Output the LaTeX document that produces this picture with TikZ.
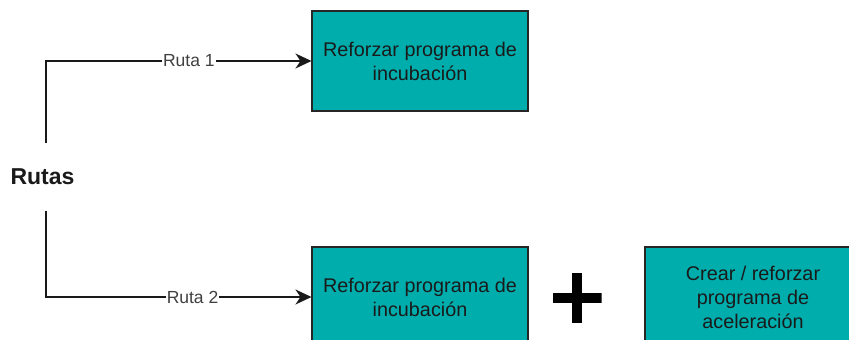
\documentclass[tikz,border=0pt]{standalone}
\usepackage{fontspec}
\setmainfont{Liberation Sans}
\usetikzlibrary{arrows.meta}
\definecolor{tealfill}{RGB}{0,173,173}
\definecolor{txt}{RGB}{26,26,26}
\tikzset{
  progbox/.style={draw=black!85, line width=1.1pt, fill=tealfill, minimum width=216pt, minimum height=100pt,
    inner sep=0pt, align=center, text=txt, font=\fontsize{19.8pt}{24pt}\selectfont},
  conn/.style={draw=black!90, line width=1.4pt, -{Stealth[length=16pt,width=15pt,inset=5pt]}},
  lbl/.style={fill=white, inner sep=1pt, text=black!75, font=\fontsize{17.5pt}{20pt}\selectfont},
}
\begin{document}
\begin{tikzpicture}[x=1pt,y=-1pt]
\useasboundingbox (0,0) rectangle (849,340);
\node[progbox] (b1) at (420,61) {Reforzar programa de\\incubación};
\node[progbox] (b2) at (420,297) {Reforzar programa de\\incubación};
\node[progbox] (b3) at (753,297) {Crear / reforzar\\programa de\\aceleración};
\node[inner sep=0pt, minimum height=67pt, minimum width=8pt, font=\bfseries\fontsize{23pt}{26pt}\selectfont, text=txt] (rutas) at (46,177) {\hspace*{-7pt}Rutas};
\node[minimum width=49pt, minimum height=50pt, inner sep=0pt,
  path picture={\fill[black] ([xshift=-24.5pt,yshift=-5pt]path picture bounding box.center) rectangle ([xshift=24.5pt,yshift=5pt]path picture bounding box.center);
                \fill[black] ([xshift=-4.7pt,yshift=-25pt]path picture bounding box.center) rectangle ([xshift=4.7pt,yshift=25pt]path picture bounding box.center);}] (plus) at (577,298) {};
\draw[conn] (rutas.north) |- node[lbl, pos=0.769] {Ruta 1} (b1.west);
\draw[conn] (rutas.south) |- node[lbl, pos=0.776] {Ruta 2} (b2.west);
\end{tikzpicture}
\end{document}
